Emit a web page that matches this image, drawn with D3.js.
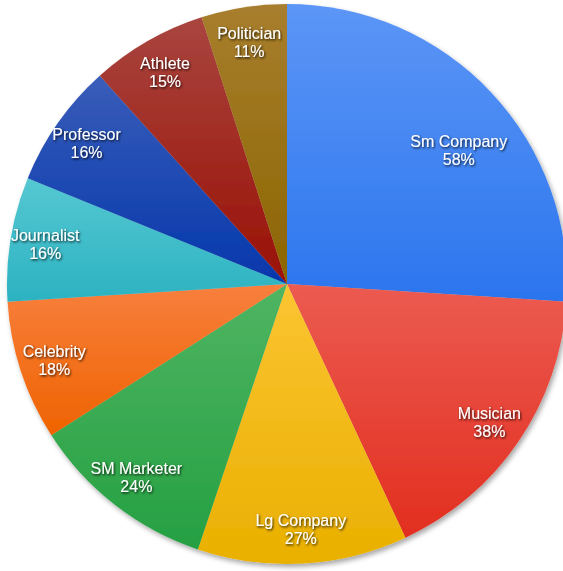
<!DOCTYPE html>
<html>
<head>
<meta charset="utf-8">
<script src="https://cdn.jsdelivr.net/npm/d3@7"></script>
<style>
  html, body { margin: 0; padding: 0; background: #ffffff; }
  svg { display: block; }
</style>
</head>
<body>
<svg id="chart" width="563" height="571"></svg>
<script>
// Share of respondents by type of account (percent)
const categories = ["Sm Company", "Musician", "Lg Company", "SM Marketer", "Celebrity",
                    "Journalist", "Professor", "Athlete", "Politician"];
const values = [58, 38, 27, 24, 18, 16, 16, 15, 11];

// Slice shading: lighter tone at the top of each slice, deeper tone at the bottom
const lightTones = ["#5c96f6", "#ec5b51", "#fcc432", "#4fb562", "#f87f3e", "#55c8d2", "#3a5db9", "#a9453f", "#a87e2e"];
const darkTones  = ["#2b75ee", "#e22e1f", "#e9b000", "#25a042", "#ef6300", "#2cb2c1", "#0437ac", "#991005", "#8b6500"];

const width = 563, height = 571;
const cx = 287, cy = 284, radius = 280, labelRadius = 245;

const svg = d3.select("#chart");
const defs = svg.append("defs");

// Soft shadow under the disc
const shadow = defs.append("filter").attr("id", "pieShadow")
  .attr("x", "-10%").attr("y", "-10%").attr("width", "120%").attr("height", "120%");
shadow.append("feDropShadow").attr("dx", 2).attr("dy", 3).attr("stdDeviation", 2.5)
  .attr("flood-color", "#000").attr("flood-opacity", 0.35);

// Dark halo behind the white labels
const textShadow = defs.append("filter").attr("id", "textShadow")
  .attr("x", "-20%").attr("y", "-40%").attr("width", "140%").attr("height", "180%");
textShadow.append("feDropShadow").attr("dx", 1).attr("dy", 1.3).attr("stdDeviation", 1.1)
  .attr("flood-color", "#000").attr("flood-opacity", 0.85);

categories.forEach((c, i) => {
  const g = defs.append("linearGradient").attr("id", "grad" + i)
    .attr("x1", 0).attr("y1", 0).attr("x2", 0).attr("y2", 1);
  g.append("stop").attr("offset", "0%").attr("stop-color", lightTones[i]);
  g.append("stop").attr("offset", "100%").attr("stop-color", darkTones[i]);
});

const data = categories.map((c, i) => ({ name: c, value: values[i], index: i }));

const pie = d3.pie().value(d => d.value).sort(null);
const arcs = pie(data);
const arc = d3.arc().innerRadius(0).outerRadius(radius);
const labelArc = d3.arc().innerRadius(labelRadius).outerRadius(labelRadius);

// Slices wider than a quarter turn get their label pulled inward and nudged clockwise
function labelPos(d) {
  const span = d.endAngle - d.startAngle;
  if (span > Math.PI / 2) {
    const a = (d.startAngle + d.endAngle) / 2 + 0.09;
    const r = labelRadius * 0.89;
    return [r * Math.sin(a), -r * Math.cos(a)];
  }
  return labelArc.centroid(d);
}

const root = svg.append("g").attr("transform", `translate(${cx},${cy})`);

root.append("g").attr("filter", "url(#pieShadow)")
  .selectAll("path")
  .data(arcs)
  .join("path")
  .attr("d", arc)
  .attr("fill", d => `url(#grad${d.data.index})`);

const labels = root.append("g")
  .attr("font-family", "Liberation Sans, Arial, Helvetica, sans-serif")
  .attr("font-size", 16)
  .attr("fill", "#ffffff")
  .attr("text-anchor", "middle")
  .attr("filter", "url(#textShadow)")
  .selectAll("text")
  .data(arcs)
  .join("text")
  .attr("transform", d => `translate(${labelPos(d)})`);

labels.append("tspan").attr("x", 0).attr("y", -3).text(d => d.data.name);
labels.append("tspan").attr("x", 0).attr("y", 15).text(d => d.data.value + "%");
</script>
</body>
</html>
